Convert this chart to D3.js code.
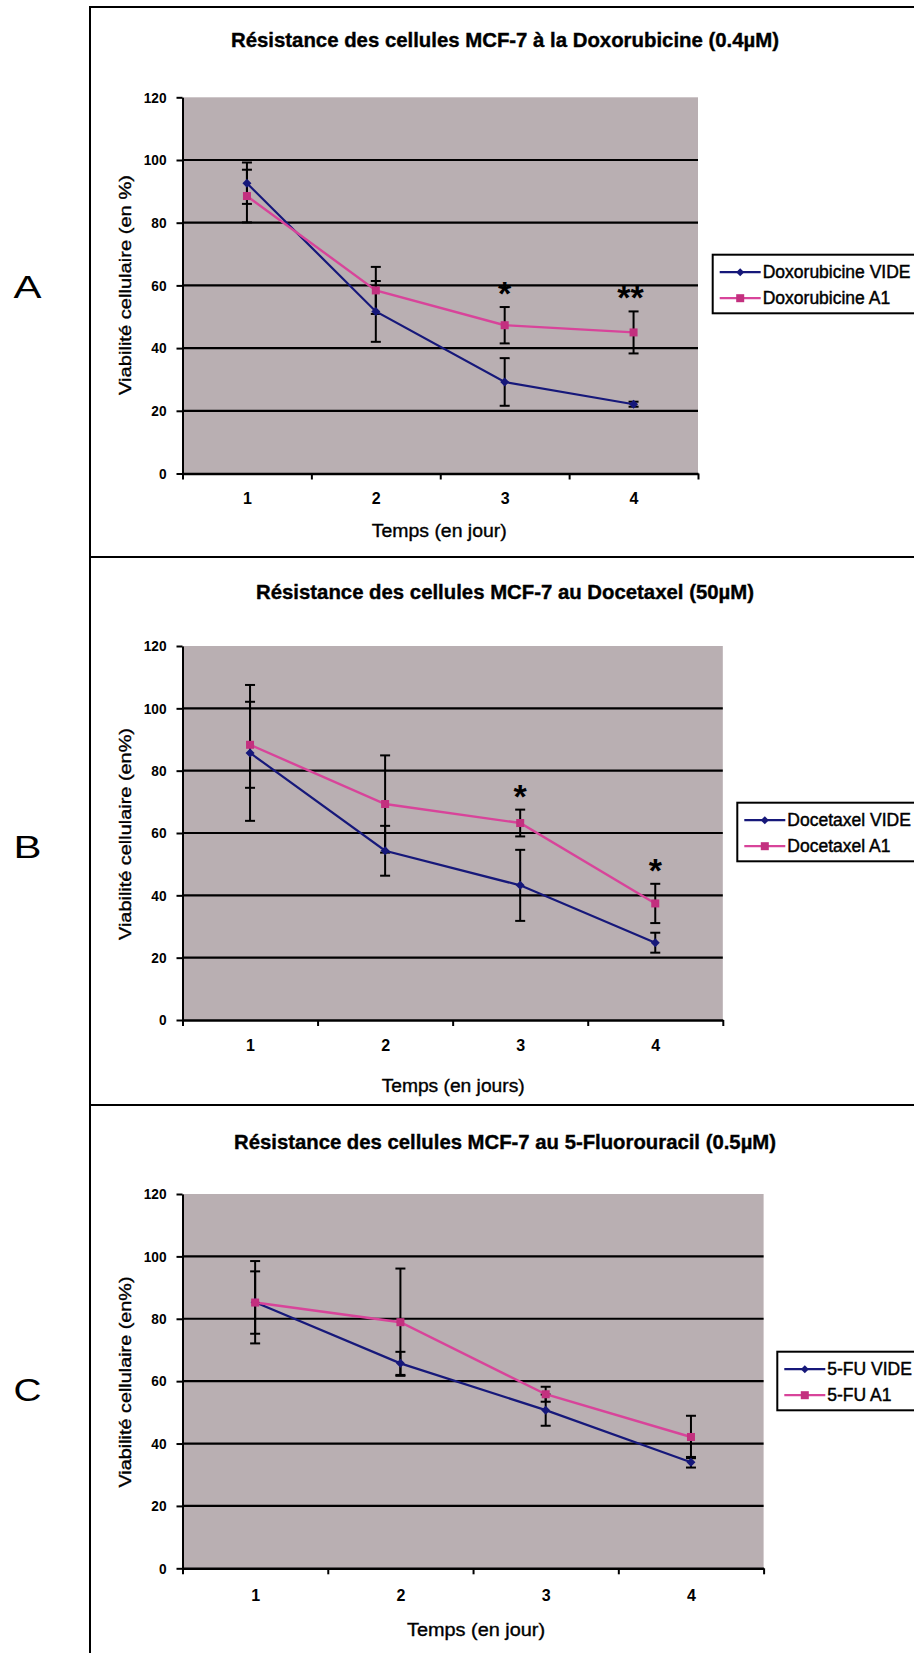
<!DOCTYPE html>
<html><head><meta charset="utf-8">
<script src="https://cdn.jsdelivr.net/npm/d3@7/dist/d3.min.js"></script>
<style>body{margin:0;background:#fff}svg{display:block}</style>
</head><body>
<svg id="chart" width="914" height="1653"></svg>
<script>
// ---------- DATA ----------
const days = [1, 2, 3, 4];
const yTicks = [0, 20, 40, 60, 80, 100, 120];
const panelLetters = ["A", "B", "C"];
const titles = [
  "Résistance des cellules MCF-7 à la Doxorubicine (0.4µM)",
  "Résistance des cellules MCF-7 au Docetaxel (50µM)",
  "Résistance des cellules MCF-7 au 5-Fluorouracil (0.5µM)"
];
const xTitles = ["Temps (en jour)", "Temps (en jours)", "Temps (en jour)"];
const yTitles = ["Viabilité cellulaire (en %)", "Viabilité cellulaire (en%)", "Viabilité cellulaire (en%)"];
const legendVide = ["Doxorubicine VIDE", "Docetaxel VIDE", "5-FU VIDE"];
const legendA1 = ["Doxorubicine A1", "Docetaxel A1", "5-FU A1"];

// Panel A : Doxorubicine
const doxoVide = [92.6, 51.7, 29.2, 22.1];
const doxoVideErr = [6.6, 9.7, 7.6, 0.8];
const doxoA1 = [88.5, 58.4, 47.3, 45.0];
const doxoA1Err = [8.4, 7.5, 5.8, 6.7];
const doxoStars = ["", "", "*", "**"];

// Panel B : Docetaxel
const docVide = [85.7, 54.3, 43.2, 24.8];
const docVideErr = [21.8, 8.0, 11.4, 3.2];
const docA1 = [88.3, 69.3, 63.2, 37.4];
const docA1Err = [13.8, 15.6, 4.3, 6.3];
const docStars = ["", "", "*", "*"];

// Panel C : 5-Fluorouracil
const fuVide = [85.3, 65.7, 50.7, 34.0];
const fuVideErr = [13.2, 3.7, 5.0, 1.7];
const fuA1 = [85.2, 78.9, 55.8, 42.1];
const fuA1Err = [10.0, 17.2, 2.4, 6.8];
const fuStars = ["", "", "", ""];

// ---------- LAYOUT / STYLE ----------
const COL_VIDE = "#16187a";
const COL_A1 = "#d8449a";
const COL_A1_MK = "#c3307f";
const PLOT_BG = "#b9afb2";
const FONT = "'Liberation Sans', Arial, sans-serif";

const layout = [
  {x0: 182.5, x1: 698, y0: 97.3, y1: 473.5, titleY: 47, titleW: 548, xTitleY: 536.5, xTitleW: 135, xTitleDx: -1,
   yTitleCy: 285, yTitleW: 220, lx: 712.7, ly: 254.7, letterY: 298, tickPad: 19.5},
  {x0: 182.5, x1: 722.8, y0: 646, y1: 1020, titleY: 599, titleW: 498, xTitleY: 1092, xTitleW: 143, xTitleDx: 0.5,
   yTitleCy: 834, yTitleW: 212, lx: 737.3, ly: 802.7, letterY: 858, tickPad: 20},
  {x0: 182.5, x1: 763.6, y0: 1194, y1: 1568.3, titleY: 1149, titleW: 542, xTitleY: 1636, xTitleW: 138, xTitleDx: 3,
   yTitleCy: 1382, yTitleW: 211, lx: 777.3, ly: 1351.7, letterY: 1401, tickPad: 21}
];

const panels = [
  {vide: doxoVide, videErr: doxoVideErr, a1: doxoA1, a1Err: doxoA1Err, stars: doxoStars},
  {vide: docVide, videErr: docVideErr, a1: docA1, a1Err: docA1Err, stars: docStars},
  {vide: fuVide, videErr: fuVideErr, a1: fuA1, a1Err: fuA1Err, stars: fuStars}
];

const svg = d3.select("#chart");
svg.append("rect").attr("width", 914).attr("height", 1653).attr("fill", "#fff");

// frame lines
const frameH = [7, 557, 1105];
svg.selectAll("line.frameh").data(frameH).join("line").attr("class", "frameh")
  .attr("x1", 89).attr("x2", 914).attr("y1", d => d).attr("y2", d => d)
  .attr("stroke", "#000").attr("stroke-width", 2);
svg.append("line").attr("x1", 90).attr("x2", 90).attr("y1", 6).attr("y2", 1653)
  .attr("stroke", "#000").attr("stroke-width", 2);

function diamondPath(cx, cy, r) {
  return `M${cx},${cy - r}L${cx + r},${cy}L${cx},${cy + r}L${cx - r},${cy}Z`;
}
// slight thickening, like the scanned original
function heavy(sel, w) { return sel.attr("stroke", "#000").attr("stroke-width", w).attr("paint-order", "stroke"); }

panels.forEach((P, i) => {
  const L = layout[i];
  const g = svg.append("g");
  const x = d3.scaleLinear().domain([0.5, 4.5]).range([L.x0, L.x1]);
  const y = d3.scaleLinear().domain([0, 120]).range([L.y1, L.y0]);

  // panel letter
  g.append("text").attr("x", 27.5).attr("y", L.letterY).attr("text-anchor", "middle")
    .attr("font-family", FONT).attr("font-size", 32).attr("textLength", 28)
    .attr("lengthAdjust", "spacingAndGlyphs").text(panelLetters[i]);

  // title
  heavy(g.append("text").attr("x", 505).attr("y", L.titleY).attr("text-anchor", "middle")
    .attr("font-family", FONT).attr("font-weight", "bold").attr("font-size", 21)
    .attr("textLength", L.titleW).attr("lengthAdjust", "spacingAndGlyphs").text(titles[i]), 0.4);

  // plot background
  g.append("rect").attr("x", L.x0).attr("y", L.y0).attr("width", L.x1 - L.x0).attr("height", L.y1 - L.y0)
    .attr("fill", PLOT_BG);

  // gridlines
  g.selectAll("line.grid").data(yTicks.filter(t => t > 0 && t < 120)).join("line").attr("class", "grid")
    .attr("x1", L.x0).attr("x2", L.x1).attr("y1", d => y(d)).attr("y2", d => y(d))
    .attr("stroke", "#000").attr("stroke-width", 2.2);

  // y axis
  const ya = g.append("g").attr("transform", `translate(${L.x0},0)`)
    .call(d3.axisLeft(y).tickValues(yTicks).tickSize(6).tickSizeOuter(0).tickPadding(10));
  ya.select(".domain").attr("stroke-width", 2);
  ya.selectAll(".tick line").attr("stroke-width", 2);
  ya.selectAll(".tick text").attr("font-family", FONT).attr("font-weight", "bold").attr("font-size", 15)
    .attr("textLength", d => String(d).length * 7.6).attr("lengthAdjust", "spacingAndGlyphs");

  // x axis (tick marks on category boundaries)
  const xa = g.append("g").attr("transform", `translate(0,${L.y1})`)
    .call(d3.axisBottom(x).tickValues([0.5, 1.5, 2.5, 3.5, 4.5]).tickSize(6).tickSizeOuter(0).tickFormat(""));
  xa.select(".domain").attr("stroke-width", 2.5);
  xa.selectAll(".tick line").attr("stroke-width", 2);
  const xl = g.append("g").attr("transform", `translate(0,${L.y1})`)
    .call(d3.axisBottom(x).tickValues(days).tickSize(0).tickPadding(L.tickPad).tickFormat(d3.format("d")));
  xl.select(".domain").remove();
  xl.selectAll(".tick text").attr("font-family", FONT).attr("font-weight", "bold").attr("font-size", 16);

  // axis titles
  heavy(g.append("text").attr("x", (L.x0 + L.x1) / 2 + L.xTitleDx)
    .attr("y", L.xTitleY).attr("text-anchor", "middle")
    .attr("font-family", FONT).attr("font-size", 17.5).attr("textLength", L.xTitleW)
    .attr("lengthAdjust", "spacingAndGlyphs").text(xTitles[i]), 0.35);
  heavy(g.append("text").attr("transform", `translate(130.5,${L.yTitleCy}) rotate(-90)`)
    .attr("text-anchor", "middle").attr("font-family", FONT).attr("font-size", 17)
    .attr("textLength", L.yTitleW).attr("lengthAdjust", "spacingAndGlyphs").text(yTitles[i]), 0.35);

  // error bars
  const series = [
    {vals: P.vide, errs: P.videErr},
    {vals: P.a1, errs: P.a1Err}
  ];
  series.forEach(s => {
    const eb = g.append("g");
    days.forEach((d, k) => {
      const cx = x(d), lo = y(s.vals[k] - s.errs[k]), hi = y(s.vals[k] + s.errs[k]);
      eb.append("line").attr("x1", cx).attr("x2", cx).attr("y1", lo).attr("y2", hi)
        .attr("stroke", "#000").attr("stroke-width", 2);
      [lo, hi].forEach(yy => eb.append("line").attr("x1", cx - 5).attr("x2", cx + 5)
        .attr("y1", yy).attr("y2", yy).attr("stroke", "#000").attr("stroke-width", 2));
    });
  });

  // lines
  const line = d3.line().x((v, k) => x(days[k])).y(v => y(v));
  g.append("path").attr("d", line(P.vide)).attr("fill", "none").attr("stroke", COL_VIDE).attr("stroke-width", 2.2);
  g.append("path").attr("d", line(P.a1)).attr("fill", "none").attr("stroke", COL_A1).attr("stroke-width", 2.4);

  // markers
  g.selectAll("path.mv").data(P.vide).join("path").attr("class", "mv")
    .attr("d", (v, k) => diamondPath(x(days[k]), y(v), 4.5)).attr("fill", COL_VIDE);
  g.selectAll("rect.ma").data(P.a1).join("rect").attr("class", "ma")
    .attr("x", (v, k) => x(days[k]) - 4).attr("y", v => y(v) - 4)
    .attr("width", 8).attr("height", 8).attr("fill", COL_A1_MK);

  // significance stars
  days.forEach((d, k) => {
    if (!P.stars[k]) return;
    g.append("text").attr("x", x(d) + (P.stars[k].length > 1 ? -3 : 0))
      .attr("y", y(P.a1[k] + P.a1Err[k]) - 2)
      .attr("text-anchor", "middle").attr("font-family", FONT).attr("font-weight", "bold")
      .attr("font-size", 34).text(P.stars[k]);
  });

  // legend
  const lg = g.append("g").attr("transform", `translate(${L.lx},${L.ly})`);
  lg.append("rect").attr("x", 0).attr("y", 0).attr("width", 240).attr("height", 58.6)
    .attr("fill", "#fff").attr("stroke", "#000").attr("stroke-width", 2);
  const rows = [
    {name: legendVide[i], col: COL_VIDE, mk: "d", dy: 17.5},
    {name: legendA1[i], col: COL_A1, mk: "s", dy: 43.5}
  ];
  rows.forEach(r => {
    lg.append("line").attr("x1", 7).attr("x2", 48).attr("y1", r.dy).attr("y2", r.dy)
      .attr("stroke", r.col).attr("stroke-width", 2.2);
    if (r.mk === "d") lg.append("path").attr("d", diamondPath(27.5, r.dy, 4)).attr("fill", COL_VIDE);
    else lg.append("rect").attr("x", 23.5).attr("y", r.dy - 4).attr("width", 8).attr("height", 8).attr("fill", COL_A1_MK);
    heavy(lg.append("text").attr("x", 50).attr("y", r.dy + 6).attr("font-family", FONT)
      .attr("font-size", 17.5).text(r.name), 0.45);
  });
});
</script>
</body></html>
